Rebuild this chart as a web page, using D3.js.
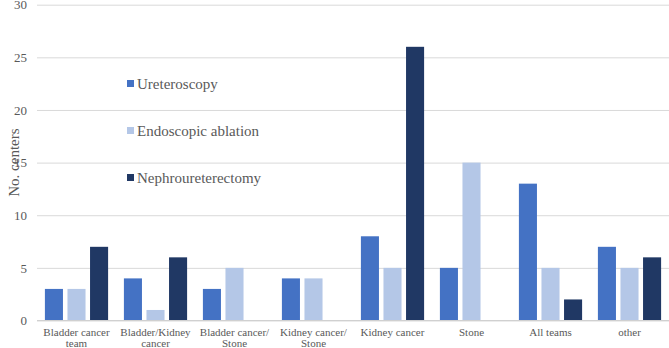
<!DOCTYPE html>
<html>
<head>
<meta charset="utf-8">
<script src="https://cdn.jsdelivr.net/npm/d3@7"></script>
<style>
body { margin: 0; background: #fff; }
svg text { font-family: "Liberation Serif", "Times New Roman", Times, "DejaVu Serif", serif !important; fill: #595959; }
</style>
</head>
<body>
<svg id="chart" width="669" height="348"></svg>
<script>
var categories = [["Bladder cancer", "team"], ["Bladder/Kidney", "cancer"], ["Bladder cancer/", "Stone"],
	["Kidney cancer/", "Stone"], ["Kidney cancer"], ["Stone"], ["All teams"], ["other"]];
var seriesNames = ["Ureteroscopy", "Endoscopic ablation", "Nephroureterectomy"];
var ureteroscopy = [3, 4, 3, 4, 8, 5, 13, 7];
var ablation = [3, 1, 5, 4, 5, 15, 5, 5];
var nephro = [7, 6, 0, 0, 26, 0, 2, 6];
var yTicks = [0, 5, 10, 15, 20, 25, 30];
var colors = ["#4472C4", "#B4C7E7", "#203864"];

var series = [ureteroscopy, ablation, nephro];

var svg = d3.select("#chart"),
	margin = {top: 4.7, left: 37, bottom: 27.5, right: 0},
	width = +svg.attr("width"),
	height = +svg.attr("height");

var x0 = d3.scaleBand()
	.domain(d3.range(categories.length))
	.range([margin.left, width - margin.right])
	.paddingInner(0.2)
	.paddingOuter(0.1);

var x1 = d3.scaleBand()
	.domain(d3.range(series.length))
	.range([0, x0.bandwidth()])
	.paddingInner(0.2)
	.paddingOuter(0);

var y = d3.scaleLinear()
	.domain([0, 30])
	.range([height - margin.bottom, margin.top]);

// gridlines + y labels
var yAxis = svg.append("g")
	.attr("transform", `translate(${margin.left},0)`)
	.call(d3.axisLeft(y).tickValues(yTicks).tickSize(-(width - margin.left - margin.right)).tickPadding(10));
yAxis.attr("font-family", null);
yAxis.select(".domain").remove();
yAxis.selectAll("line").attr("stroke", "#d9d9d9").attr("stroke-width", 1);
yAxis.selectAll("text").style("font-size", "13px").attr("fill", "#595959");

// y title
svg.append("text")
	.attr("transform", `translate(14,${(y(0) + y(30)) / 2}) rotate(-90)`)
	.attr("text-anchor", "middle")
	.attr("dy", "0.35em")
	.style("font-size", "15px")
	.text("No. centers");

// bars
var groups = svg.selectAll(".group")
	.data(categories)
	.enter().append("g")
	.attr("class", "group")
	.attr("transform", (d, i) => `translate(${x0(i)},0)`);

groups.selectAll("rect")
	.data((d, i) => series.map((s, j) => ({s: j, v: s[i]})))
	.enter().append("rect")
	.attr("x", d => x1(d.s))
	.attr("width", x1.bandwidth())
	.attr("y", d => y(d.v))
	.attr("height", d => y(0) - y(d.v))
	.attr("fill", d => colors[d.s]);

// baseline
svg.append("line")
	.attr("x1", margin.left).attr("x2", width - margin.right)
	.attr("y1", y(0)).attr("y2", y(0))
	.attr("stroke", "#d0d0d0");

// x labels
var xl = svg.selectAll(".xlabel")
	.data(categories)
	.enter().append("text")
	.attr("class", "xlabel")
	.attr("text-anchor", "middle")
	.attr("x", (d, i) => x0(i) + x0.bandwidth() / 2)
	.attr("y", y(0) + 15)
	.style("font-size", "11px");
xl.selectAll("tspan")
	.data(d => d)
	.enter().append("tspan")
	.attr("x", function() { return d3.select(this.parentNode).attr("x"); })
	.attr("dy", (d, i) => i === 0 ? 0 : 11)
	.text(d => d);

// legend
var legend = svg.selectAll(".legend")
	.data(seriesNames)
	.enter().append("g")
	.attr("class", "legend")
	.attr("transform", (d, i) => `translate(127,${84 + i * 47})`);

legend.append("rect")
	.attr("x", 0).attr("y", -4)
	.attr("width", 7).attr("height", 7)
	.attr("fill", (d, i) => colors[i]);

legend.append("text")
	.attr("x", 10)
	.attr("dy", "0.35em")
	.style("font-size", "15px")
	.text(d => d);
</script>
</body>
</html>
